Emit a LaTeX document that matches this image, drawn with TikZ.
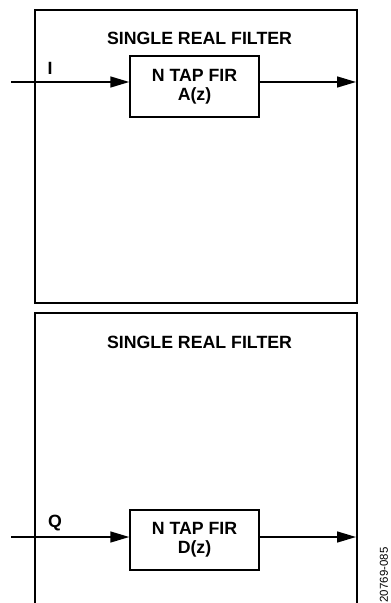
\documentclass[tikz,border=0pt]{standalone}
\usepackage{fontspec}
\setmainfont{Liberation Sans}
\usetikzlibrary{arrows.meta}

\tikzset{
  firbox/.style={draw, rectangle, line width=1.5bp, minimum width=129bp, minimum height=61bp, inner sep=0pt, align=center,
    font=\fontsize{17.8}{19.5}\selectfont\bfseries},
  ttl/.style={inner sep=0pt, font=\fontsize{17.8}{19.5}\selectfont\bfseries},
  sig/.style={-{Triangle[length=19bp, width=11bp]}, line width=1.5bp}
}

\begin{document}
\begin{tikzpicture}[x=1bp, y=-1bp, line width=1.5bp]
				\useasboundingbox (0,0) rectangle (390,603);

				% Upper filter frame
				\draw (35,10) rectangle (357,303);
				\node[ttl] (ttlA) at (199.5,38) {SINGLE REAL FILTER};

				% FIR A(z)
				\node[firbox] (firA) at (194.5,86.5) {N TAP FIR\\A(z)};
				\coordinate (inA) at (11,82);
				\coordinate (outA) at (356,82);
				\node[ttl] (lblI) at (50,68) {I};
				\draw[sig] (inA) -- (inA -| firA.west);
				\draw[sig] (firA.east |- outA) -- (outA);

				% Lower filter frame (cut off at the bottom)
				\draw (35,610) -- (35,313) -- (357,313) -- (357,610);
				\node[ttl] (ttlD) at (199.5,342.5) {SINGLE REAL FILTER};

				% FIR D(z)
				\node[firbox, minimum height=60bp] (firD) at (194.5,540) {N TAP FIR\\D(z)};
				\coordinate (inD) at (11,537);
				\coordinate (outD) at (356,537);
				\node[ttl] (lblQ) at (55,523) {Q};
				\draw[sig] (inD) -- (inD -| firD.west);
				\draw[sig] (firD.east |- outD) -- (outD);

				% Figure number
				\node[rotate=90, inner sep=0pt, font=\fontsize{11.5}{13}\selectfont] (fignum) at (384,575) {20769-085};
\end{tikzpicture}
\end{document}
